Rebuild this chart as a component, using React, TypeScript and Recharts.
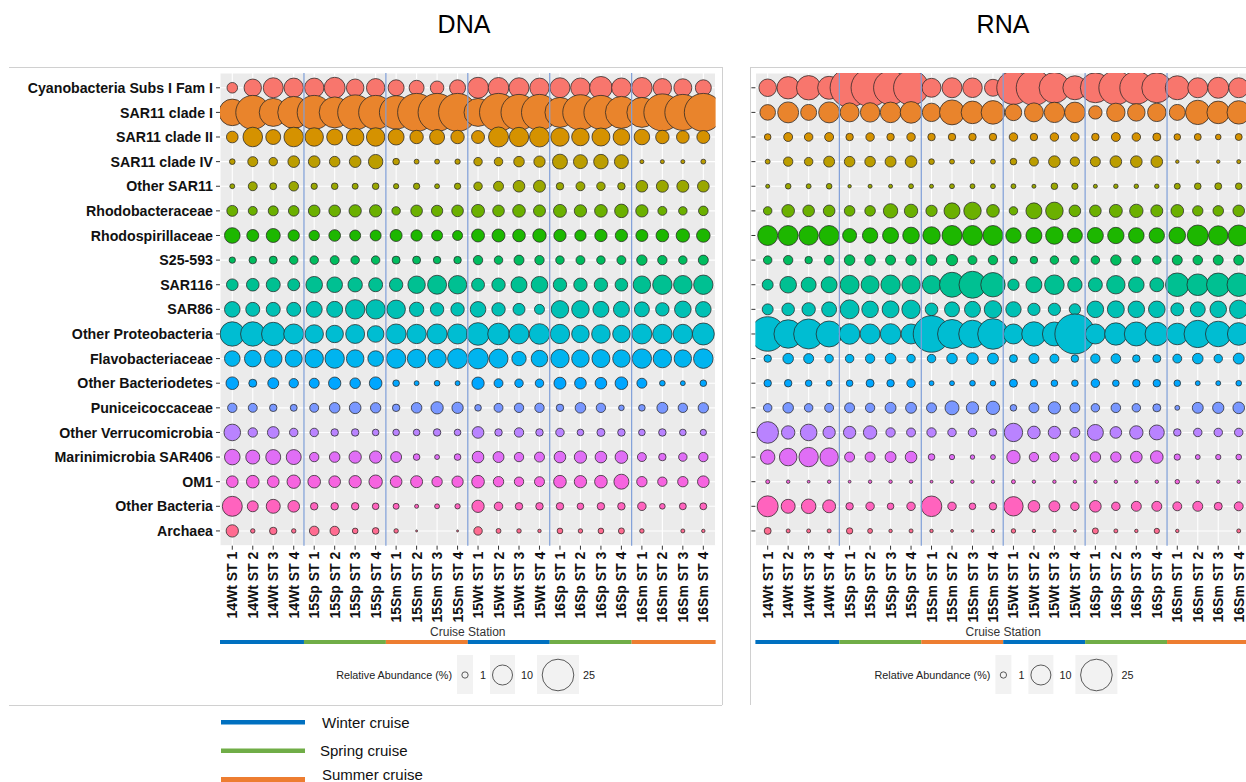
import React from "react";
import { ScatterChart, Scatter, XAxis, YAxis, ZAxis, CartesianGrid, ReferenceLine } from "recharts";

// Cruise stations (x) and taxa (y)
const stations = [
  "14Wt ST 1", "14Wt ST 2", "14Wt ST 3", "14Wt ST 4",
  "15Sp ST 1", "15Sp ST 2", "15Sp ST 3", "15Sp ST 4",
  "15Sm ST 1", "15Sm ST 2", "15Sm ST 3", "15Sm ST 4",
  "15Wt ST 1", "15Wt ST 2", "15Wt ST 3", "15Wt ST 4",
  "16Sp ST 1", "16Sp ST 2", "16Sp ST 3", "16Sp ST 4",
  "16Sm ST 1", "16Sm ST 2", "16Sm ST 3", "16Sm ST 4",
];

const taxa = [
  "Cyanobacteria Subs I Fam I", "SAR11 clade I", "SAR11 clade II", "SAR11 clade IV",
  "Other SAR11", "Rhodobacteraceae", "Rhodospirillaceae", "S25-593", "SAR116", "SAR86",
  "Other Proteobacteria", "Flavobacteriaceae", "Other Bacteriodetes", "Puniceicoccaceae",
  "Other Verrucomicrobia", "Marinimicrobia SAR406", "OM1", "Other Bacteria", "Archaea",
];

const taxonColors = [
  "#F8766D", "#E9842C", "#D59200", "#BB9D00", "#9AA700", "#6BB000", "#1DB700",
  "#00BC5F", "#00C092", "#00C0B4", "#00BDD2", "#00B4EF", "#00A6FF", "#7997FF",
  "#B983FF", "#E06EF6", "#F664E0", "#FF63BE", "#FF6C91",
];

const cruiseLegend = [
  { code: "Wt", label: "Winter cruise", color: "#0070C0" },
  { code: "Sp", label: "Spring cruise", color: "#70AD47" },
  { code: "Sm", label: "Summer cruise", color: "#ED7D31" },
];

const sizeBreaks = [1, 10, 25];

// Relative abundance (%) - DNA
const dnaCyano = [2.8, 7.6, 10, 9.4, 9.4, 11, 7.7, 8.5, 6.4, 5.6, 4.6, 6.4, 11, 10.6, 10, 9.4, 10, 9.6, 12.8, 9.6, 10.6, 8.5, 8.1, 6.4];
const dnaSar11I = [17.7, 28.9, 19.6, 25.6, 28.9, 24, 30.6, 28.9, 27.9, 36.1, 36.1, 36.1, 19.6, 36.1, 32.4, 32.4, 22.5, 31.3, 28.9, 25.6, 22.5, 34.2, 32.4, 36.1];
const dnaSar11II = [3.4, 9.6, 5.6, 9.6, 8.5, 6.4, 7.7, 8.5, 6.4, 4.5, 5.6, 4.5, 4.2, 10, 9.4, 10, 8.5, 7.7, 8.1, 6.9, 6.1, 4.5, 4, 4.2];
const dnaSar11IV = [0.8, 2.5, 1.8, 3.4, 3.4, 2.8, 3.4, 5.2, 1.1, 0.6, 0.6, 0.7, 1.8, 1.8, 2.8, 3.2, 5.6, 4.9, 5.3, 4.9, 0.4, 0.4, 0.4, 0.6];
const dnaOtherSar11 = [0.6, 2, 1.2, 2.3, 1, 1.1, 0.9, 1.1, 0.7, 1, 0.6, 1, 1.8, 2.5, 3.4, 3.6, 1.4, 2, 1.8, 1.4, 3.4, 3.6, 3.6, 3.4];
const dnaRhodobact = [3, 2, 2.5, 2.8, 3.4, 3.4, 3.8, 3.8, 1.8, 3.4, 3.2, 3.4, 4.2, 3.4, 4, 3.6, 4.2, 3.8, 4, 4.6, 3.8, 2, 1.8, 2.3];
const dnaRhodospir = [6.1, 3.6, 4.9, 3.2, 2.7, 3.4, 3, 3, 3.6, 3.2, 3, 2.5, 4.2, 4.2, 4, 4.5, 3.8, 3.2, 3.8, 3.8, 3.6, 4, 4.5, 4.6];
const dnaS25 = [1, 1.4, 1.6, 1.8, 1.8, 2, 1.8, 1.8, 1.6, 1.6, 1.4, 1.4, 2.2, 1.8, 2.5, 2.2, 1.8, 2, 1.8, 2, 2.7, 2.2, 1.8, 2.5];
const dnaSar116 = [3.4, 4, 4.9, 3.6, 6.9, 6.1, 5.2, 4.9, 4.5, 7.6, 9, 8.5, 4.2, 4.5, 6.4, 6.9, 4.5, 4.5, 4.5, 4, 7.7, 9.4, 8.6, 9.4];
const dnaSar86 = [6.1, 4.9, 4.9, 4.9, 6.4, 6.4, 9.4, 9.4, 8.6, 5.2, 4.5, 4.5, 6.1, 4.5, 3.6, 2.5, 7.7, 7.7, 6.4, 6.4, 5.6, 4.5, 6.9, 6.1];
const dnaOtherProteo = [14.9, 14.9, 13.7, 10, 8.5, 7.6, 9, 6.9, 10, 9.4, 10, 10, 12.8, 11.7, 10, 10.6, 9.4, 7.7, 8.6, 7.6, 10, 9.4, 9.4, 12.1];
const dnaFlavo = [6.1, 6.9, 7.7, 7.2, 8.5, 9.4, 7.7, 6.1, 9.4, 8.6, 8.5, 10, 10.6, 9, 5.2, 6.9, 8.5, 7.7, 8.1, 7.6, 9.4, 8.5, 7.6, 9.6];
const dnaOtherBacteroid = [4, 1.6, 3, 2.2, 2.5, 3.8, 2.8, 4, 1.1, 0.6, 0.8, 0.6, 3.8, 2, 1.8, 1.8, 3.6, 3.4, 3.4, 4, 2.5, 0.8, 0.6, 1.1];
const dnaPunicei = [2.2, 2, 1.4, 1.2, 2, 2.8, 3.4, 2.7, 1.4, 2.8, 3.8, 3.2, 1.1, 2, 2.2, 2.2, 1.4, 2.8, 2.2, 0.8, 1.1, 3, 2.2, 2.7];
const dnaOtherVerruco = [6.9, 2.2, 3.4, 1.8, 1.8, 1.4, 1.4, 1.1, 1.1, 1.1, 1.4, 1.1, 3.4, 1.4, 2.2, 1.4, 1.8, 1.1, 1.6, 1.4, 1.1, 1.4, 1.1, 1];
const dnaMarinimicro = [6.1, 4.9, 5.6, 5.6, 2.2, 2.8, 3.8, 3.8, 3, 1.1, 0.6, 1.1, 3.4, 3, 2.2, 2.5, 3.4, 3.8, 3.4, 4, 2, 1.4, 1.8, 2.2];
const dnaOm1 = [3.4, 4, 3.4, 4.5, 4, 3.4, 3.8, 4.5, 3.4, 3.6, 2.7, 3.2, 4, 2.7, 2.2, 2.5, 4, 3.8, 4, 5.6, 2.7, 2.2, 2.7, 3.4];
const dnaOtherBacteria = [10, 3, 4.9, 3.4, 1.4, 1.4, 1.4, 1.1, 0.9, 0.4, 0.6, 0.7, 3.8, 1.8, 1.4, 1.4, 1.4, 1.1, 1.4, 1.4, 1.8, 0.8, 1.2, 1.2];
const dnaArchaea = [3.8, 0.5, 1.4, 0.5, 2.3, 2.2, 0.8, 1.1, 0.5, 0.1, 0, 0.1, 1.8, 0.6, 0.5, 0.3, 0.8, 0.5, 0.8, 0.9, 0.5, 0, 0.4, 0.3];

// Relative abundance (%) - RNA
const rnaCyano = [7.7, 12.5, 14.9, 13.2, 38, 36.1, 28.9, 30.6, 9, 10, 9.6, 7.2, 27.9, 31.3, 23.4, 14.4, 22.5, 28.9, 27.2, 22.5, 14.4, 10, 11, 10];
const rnaSar11I = [6.1, 11, 6.4, 11, 9, 9.4, 10.6, 11.7, 8.5, 15.6, 12.8, 13.9, 6.9, 9, 10.4, 10.6, 4.5, 8.5, 7.7, 8.5, 6.4, 14.9, 12.8, 13.7];
const rnaSar11II = [1.1, 2, 1.8, 2, 1.4, 1.8, 1.4, 1.8, 1.4, 1.4, 1.4, 1.4, 1.8, 1.4, 1.8, 1.8, 1.4, 2, 1.8, 1.6, 1.1, 1.2, 0.8, 1.2];
const rnaSar11IV = [0.6, 2.2, 1.8, 3, 2.8, 2.8, 3, 3.4, 0.8, 0.6, 0.5, 0.6, 1.1, 2, 3.4, 2.2, 2.5, 3.4, 3.4, 3.4, 0.3, 0.3, 0.3, 0.4];
const rnaOtherSar11 = [0.4, 0.8, 0.6, 0.8, 0.3, 0.4, 0.4, 0.6, 0.4, 0.6, 0.6, 0.6, 0.6, 0.4, 1.1, 1, 0.4, 0.5, 0.5, 0.5, 0.9, 1.1, 1.2, 1.1];
const rnaRhodobact = [1.8, 4, 3.4, 3.4, 2.8, 2.8, 5.2, 4.5, 3.2, 6.4, 7.6, 4, 1.8, 6.4, 7.7, 3.4, 3.4, 4.2, 4.5, 3.6, 4, 2.7, 2.8, 3.4];
const rnaRhodospir = [10, 10, 9.4, 10, 4.9, 5.9, 6.4, 6.9, 7.6, 10, 10, 10, 5.9, 6.4, 7.7, 5.6, 6.4, 6.7, 6.1, 5.9, 6.9, 11, 9.4, 11];
const rnaS25 = [1.8, 2.2, 1.4, 2.3, 2.8, 2.8, 2.5, 2.7, 2.8, 3.2, 2, 2.2, 1.6, 1.4, 1.8, 1.8, 1.8, 2.7, 2, 1.8, 2.5, 2.3, 2.5, 2.5];
const rnaSar116 = [3, 6.9, 5.6, 6.4, 9, 8.1, 9.4, 8.5, 8.5, 15.6, 18.2, 14.9, 3.2, 6.4, 9.6, 5.2, 4.9, 8.5, 6.1, 4.9, 13.9, 11.7, 13.7, 13.7];
const rnaSar86 = [3, 4, 4.5, 5.6, 9, 6.9, 7.2, 8.5, 4, 5.6, 6.4, 7.6, 5.9, 3.8, 3.8, 3.2, 6.9, 7.2, 6.9, 6.9, 4.2, 5.6, 6.9, 8.5];
const rnaOtherProteo = [29.9, 20.2, 22.5, 16.9, 10.6, 10, 10.6, 10, 33.5, 21, 19, 23.4, 10, 14.9, 14.4, 40, 10, 12.5, 14.4, 13.7, 11.7, 18.8, 16.4, 12.8];
const rnaFlavo = [1.4, 2.8, 2.5, 1.8, 1.8, 2.2, 2.8, 1.8, 1.8, 2.8, 3.4, 3, 1.6, 2.5, 2, 1.4, 2.2, 2.3, 1.4, 1.6, 2, 2.8, 1.8, 3];
const rnaOtherBacteroid = [1.4, 1.4, 1.1, 0.9, 1.1, 1.6, 1.4, 1.8, 0.6, 0.6, 0.8, 0.8, 1.6, 1.4, 1.1, 1.1, 1.8, 1.1, 1.4, 1.4, 1.1, 0.6, 0.6, 0.8];
const rnaPunicei = [1.8, 2.8, 1.8, 2, 2.5, 2.2, 3, 3, 2.5, 4.9, 3.8, 4.5, 1.1, 2.5, 3.8, 2.5, 1.8, 2.3, 1.8, 1.6, 0.6, 3, 3.2, 3.4];
const rnaOtherVerruco = [11.7, 4.5, 6.9, 3.8, 3.8, 4.5, 2.2, 2, 2.2, 1.8, 1.8, 1.4, 8.5, 4, 3.8, 2.5, 6.4, 3.4, 4.5, 5.6, 1.4, 1.8, 1.8, 1.8];
const rnaMarinimicro = [5.2, 7.7, 9.4, 8.5, 2.5, 2.5, 3, 3.4, 1.1, 0.7, 0.5, 0.6, 4.5, 2.2, 2.2, 1.8, 2.8, 2.7, 3.4, 4, 1, 0.6, 0.7, 0.8];
const rnaOm1 = [0.4, 0.3, 0.2, 0.3, 0.2, 0.3, 0.3, 0.3, 0.2, 0.3, 0.3, 0.3, 0.4, 0.3, 0.3, 0.3, 0.3, 0.3, 0.3, 0.3, 0.5, 0.3, 0.3, 0.3];
const rnaOtherBacteria = [11, 4.9, 5.3, 4.2, 1.4, 1.8, 1.1, 1.8, 10.6, 1.8, 1.1, 1.4, 9.4, 3.4, 3, 1.8, 3.4, 1.8, 2.5, 2.5, 2, 2.5, 1.6, 2];
const rnaArchaea = [1.2, 0.4, 0.4, 0.4, 1, 0.6, 0.3, 0.4, 0.3, 0.2, 0.2, 0.3, 0.5, 0.3, 0.3, 0.2, 0.9, 0.4, 0.3, 0.7, 0.3, 0, 0, 0.4];

const dnaRows = [dnaCyano, dnaSar11I, dnaSar11II, dnaSar11IV, dnaOtherSar11, dnaRhodobact, dnaRhodospir, dnaS25, dnaSar116, dnaSar86, dnaOtherProteo, dnaFlavo, dnaOtherBacteroid, dnaPunicei, dnaOtherVerruco, dnaMarinimicro, dnaOm1, dnaOtherBacteria, dnaArchaea];
const rnaRows = [rnaCyano, rnaSar11I, rnaSar11II, rnaSar11IV, rnaOtherSar11, rnaRhodobact, rnaRhodospir, rnaS25, rnaSar116, rnaSar86, rnaOtherProteo, rnaFlavo, rnaOtherBacteroid, rnaPunicei, rnaOtherVerruco, rnaMarinimicro, rnaOm1, rnaOtherBacteria, rnaArchaea];

// layout
const FONT = "'Liberation Sans', Arial, sans-serif";
const UNIT_X = 20.48;
const UNIT_Y = 24.62;
const PLOT_TOP = 73;
const X_DOMAIN: [number, number] = [-0.6, stations.length - 0.4];
const Y_DOMAIN: [number, number] = [-0.6, taxa.length - 0.4];
const PLOT_W = (X_DOMAIN[1] - X_DOMAIN[0]) * UNIT_X;
const PLOT_H = (Y_DOMAIN[1] - Y_DOMAIN[0]) * UNIT_Y;
const PLOT_BOTTOM = PLOT_TOP + PLOT_H;
const SIZE_K = 10; // area per % (px^2 / pi)

const xTicks = stations.map((_, i) => i);
const yTicks = taxa.map((_, i) => i);
const seasonOf = (s: string) => s.slice(2, 4);
const seasonColor = (code: string) => cruiseLegend.find((c) => c.code === code)!.color;

const groupBreaks = stations
  .map((s, i) => (i > 0 && seasonOf(s) !== seasonOf(stations[i - 1]) ? i - 0.5 : null))
  .filter((v): v is number => v !== null);

const cruiseRuns = (() => {
  const runs: { code: string; from: number; to: number }[] = [];
  stations.forEach((s, i) => {
    const last = runs[runs.length - 1];
    if (last && last.code === seasonOf(s)) last.to = i + 0.5;
    else runs.push({ code: seasonOf(s), from: i - 0.5, to: i + 0.5 });
  });
  runs[0].from = X_DOMAIN[0];
  runs[runs.length - 1].to = X_DOMAIN[1];
  return runs;
})();

const XTick = (props: any) => {
  const { x, y, payload } = props;
  return (
    <text x={x} y={y} transform={`rotate(-90, ${x}, ${y})`} textAnchor="end" dy="0.36em"
      fontSize={14} fontWeight="bold" fill="#111" fontFamily={FONT}>
      {stations[payload.value]}
    </text>
  );
};

const YTick = (props: any) => {
  const { x, y, payload } = props;
  return (
    <text x={x} y={y} textAnchor="end" dy="0.36em" fontSize={14.2} fontWeight="bold" fill="#111" fontFamily={FONT}>
      {taxa[payload.value]}
    </text>
  );
};

const EmptyTick = () => <g />;

function BubblePanel({ rows, chartLeft, plotLeft, showLabels }: {
  rows: number[][]; chartLeft: number; plotLeft: number; showLabels: boolean;
}) {
  const yAxisW = plotLeft - chartLeft;
  const width = yAxisW + PLOT_W + 12;
  const height = PLOT_BOTTOM + 80;
  return (
    <div style={{ position: "absolute", left: chartLeft, top: 0 }}>
      <ScatterChart width={width} height={height} margin={{ top: PLOT_TOP, right: 12, bottom: 0, left: 0 }}>
        <CartesianGrid fill="#EBEBEB" stroke="#FFFFFF" strokeWidth={1.1} />
        <XAxis type="number" dataKey="x" domain={X_DOMAIN} ticks={xTicks} interval={0} allowDataOverflow
          axisLine={false} tickLine={{ stroke: "#333" }} tickSize={4} tickMargin={2} height={80} tick={XTick} />
        <YAxis type="number" dataKey="y" domain={Y_DOMAIN} ticks={yTicks} interval={0} allowDataOverflow reversed
          axisLine={false} tickLine={{ stroke: "#333" }} tickSize={4} tickMargin={3} width={yAxisW}
          tick={showLabels ? YTick : EmptyTick} />
        <ZAxis type="number" dataKey="v" domain={[0, 50]} range={[0, Math.PI * SIZE_K * 50]} />
        {rows.map((vals, t) => (
          <Scatter key={taxa[t]} name={taxa[t]}
            data={vals.map((v, i) => ({ x: i, y: t, v })).filter((d) => d.v > 0)}
            fill={taxonColors[t]} stroke="#262626" strokeWidth={0.75} isAnimationActive={false} />
        ))}
        {groupBreaks.map((b) => (
          <ReferenceLine key={b} x={b} stroke="#7F9FD8" strokeWidth={1.2} zIndex={700} />
        ))}
      </ScatterChart>
    </div>
  );
}

function PanelDecor({ plotLeft, legendShift }: { plotLeft: number; legendShift: number }) {
  const px = (v: number) => plotLeft + (v - X_DOMAIN[0]) * UNIT_X;
  const L = plotLeft + 120 + legendShift;
  const boxes = [
    { left: L + 117, w: 16, labelX: L + 140 },
    { left: L + 150, w: 25, labelX: L + 181 },
    { left: L + 197, w: 42, labelX: L + 243 },
  ];
  return (
    <g>
      <text x={plotLeft + PLOT_W / 2} y={636} textAnchor="middle" fontSize={12} fill="#333">Cruise Station</text>
      {cruiseRuns.map((r, i) => (
        <rect key={i} x={px(r.from)} y={640} width={px(r.to) - px(r.from)} height={4} fill={seasonColor(r.code)} />
      ))}
      <text x={L + 112} y={679} textAnchor="end" fontSize={10.8} fill="#222">Relative Abundance (%)</text>
      {sizeBreaks.map((v, i) => {
        const b = boxes[i];
        return (
          <g key={v}>
            <rect x={b.left} y={655} width={b.w} height={39} fill="#F2F2F2" />
            <circle cx={b.left + b.w / 2} cy={675} r={Math.sqrt(SIZE_K * v)} fill="none" stroke="#333" strokeWidth={0.8} />
            <text x={b.labelX} y={679} fontSize={10.8} fill="#222">{v}</text>
          </g>
        );
      })}
    </g>
  );
}

export default function App() {
  const dnaPlotLeft = 220;
  const rnaPlotLeft = 755.4;
  return (
    <div style={{ position: "fixed", left: 0, top: 0, width: 1246, height: 782, overflow: "hidden", background: "#fff", fontFamily: FONT }}>
      <BubblePanel rows={dnaRows} chartLeft={0} plotLeft={dnaPlotLeft} showLabels />
      <BubblePanel rows={rnaRows} chartLeft={740} plotLeft={rnaPlotLeft} showLabels={false} />
      <svg width={1246} height={782} style={{ position: "absolute", left: 0, top: 0, pointerEvents: "none" }} fontFamily={FONT}>
        <text x={464} y={33} textAnchor="middle" fontSize={25} fill="#000">DNA</text>
        <text x={1003} y={33} textAnchor="middle" fontSize={25} fill="#000">RNA</text>
        <line x1={9} y1={67.5} x2={722} y2={67.5} stroke="#D0D0D0" />
        <line x1={722.5} y1={67} x2={722.5} y2={705} stroke="#D0D0D0" />
        <line x1={9} y1={705.5} x2={722} y2={705.5} stroke="#D0D0D0" />
        <line x1={750} y1={67.5} x2={1246} y2={67.5} stroke="#D0D0D0" />
        <line x1={750.5} y1={67} x2={750.5} y2={705} stroke="#D0D0D0" />
        <PanelDecor plotLeft={dnaPlotLeft} legendShift={0} />
        <PanelDecor plotLeft={rnaPlotLeft} legendShift={3} />
        {cruiseLegend.map((c, i) => (
          <g key={c.code}>
            <rect x={221} y={720 + i * 28.5} width={84} height={i === 2 ? 6 : 4.5} fill={c.color} />
            <text x={i === 1 ? 320 : 322} y={728 + i * 28 - (i === 2 ? 4 : 0)} fontSize={15} fill="#111">{c.label}</text>
          </g>
        ))}
      </svg>
    </div>
  );
}
